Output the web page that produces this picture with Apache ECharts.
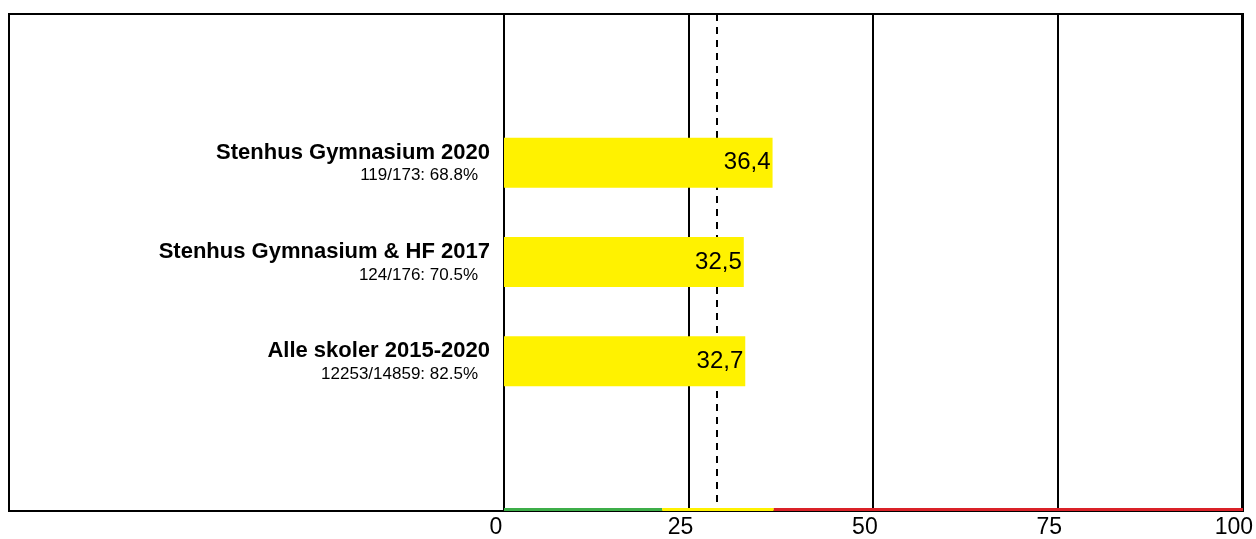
<!DOCTYPE html>
<html>
<head>
<meta charset="utf-8">
<script src="https://cdn.jsdelivr.net/npm/echarts@6/dist/echarts.min.js"></script>
<style>
html,body{margin:0;padding:0;background:#fff;}
#chart{width:1256px;height:539px;}
</style>
</head>
<body>
<div id="chart"></div>
<script>
// ---- data ----
const categories = ['Stenhus Gymnasium 2020', 'Stenhus Gymnasium & HF 2017', 'Alle skoler 2015-2020'];
const subLabels = ['119/173: 68.8%', '124/176: 70.5%', '12253/14859: 82.5%'];
const values = [36.4, 32.5, 32.7];
const referenceValue = 28.9;
const bandNames = ['green', 'yellow', 'red'];
const bandWidths = [21.4, 15.1, 63.5];
const bandColors = ['#3DAE49', '#FFF200', '#DA2128'];
const axisMin = 0, axisMax = 100, axisStep = 25;

// padded category list (empty slot above and below)
const cats = [''].concat(categories).concat(['']);
const subMap = {};
categories.forEach((c, i) => subMap[c] = subLabels[i]);
const barData = ['-'].concat(values).concat(['-']);

const chart = echarts.init(document.getElementById('chart'), null, {renderer: 'canvas'});
const FONT = 'Liberation Sans, Arial, sans-serif';

const bandSeries = bandWidths.map((w, i) => ({
  type: 'bar',
  name: bandNames[i],
  stack: 'band',
  xAxisIndex: 1,
  yAxisIndex: 1,
  barWidth: 3,
  silent: true,
  z: 5,
  itemStyle: {color: bandColors[i]},
  data: [w]
}));

chart.setOption({
  animation: false,
  backgroundColor: '#fff',
  graphic: [{
    type: 'rect',
    z: 0,
    shape: {x: 9, y: 14, width: 1234, height: 497},
    style: {fill: 'none', stroke: '#000', lineWidth: 2}
  }],
  grid: [
    {left: 504, right: 13, top: 14, bottom: 29, containLabel: false},
    {left: 504, right: 13, top: 508, height: 3, containLabel: false}
  ],
  xAxis: [{
    type: 'value',
    min: axisMin, max: axisMax, interval: axisStep,
    axisLine: {show: false},
    axisTick: {show: false},
    splitLine: {show: true, lineStyle: {color: '#000', width: 2}},
    axisLabel: {
      color: '#000', fontFamily: FONT, fontSize: 23, margin: 6,
      padding: [0, 16, 0, 0]
    }
  }, {
    type: 'value', gridIndex: 1, min: axisMin, max: axisMax, show: false
  }],
  yAxis: [{
    type: 'category',
    data: cats,
    inverse: true,
    axisLine: {show: true, lineStyle: {color: '#000', width: 2}},
    axisTick: {show: false},
    splitLine: {show: false},
    axisLabel: {
      margin: 14,
      align: 'right',
      formatter: function (v) {
        if (!v) return '';
        return '{t|' + v + '}\n{s|' + subMap[v] + '}';
      },
      rich: {
        t: {fontFamily: FONT, fontSize: 22, fontWeight: 'bold', color: '#000', lineHeight: 26, align: 'right'},
        s: {fontFamily: FONT, fontSize: 17, color: '#000', lineHeight: 20, align: 'right', padding: [0, 12, 0, 0]}
      }
    }
  }, {
    type: 'category', gridIndex: 1, data: ['band'], show: false
  }],
  series: [{
    type: 'line',
    data: [],
    z: 1,
    markLine: {
      silent: true,
      z: 1,
      symbol: ['none', 'none'],
      label: {show: false},
      lineStyle: {color: '#000', width: 2, type: [7, 6]},
      data: [{xAxis: referenceValue}]
    }
  }, {
    type: 'bar',
    data: barData,
    barWidth: 50,
    z: 3,
    itemStyle: {color: '#FFF200'},
    label: {
      show: true,
      position: 'insideRight',
      distance: 2,
      color: '#000',
      fontFamily: FONT,
      fontSize: 24,
      formatter: p => String(p.value).replace('.', ',')
    }
  }].concat(bandSeries)
});
</script>
</body>
</html>
